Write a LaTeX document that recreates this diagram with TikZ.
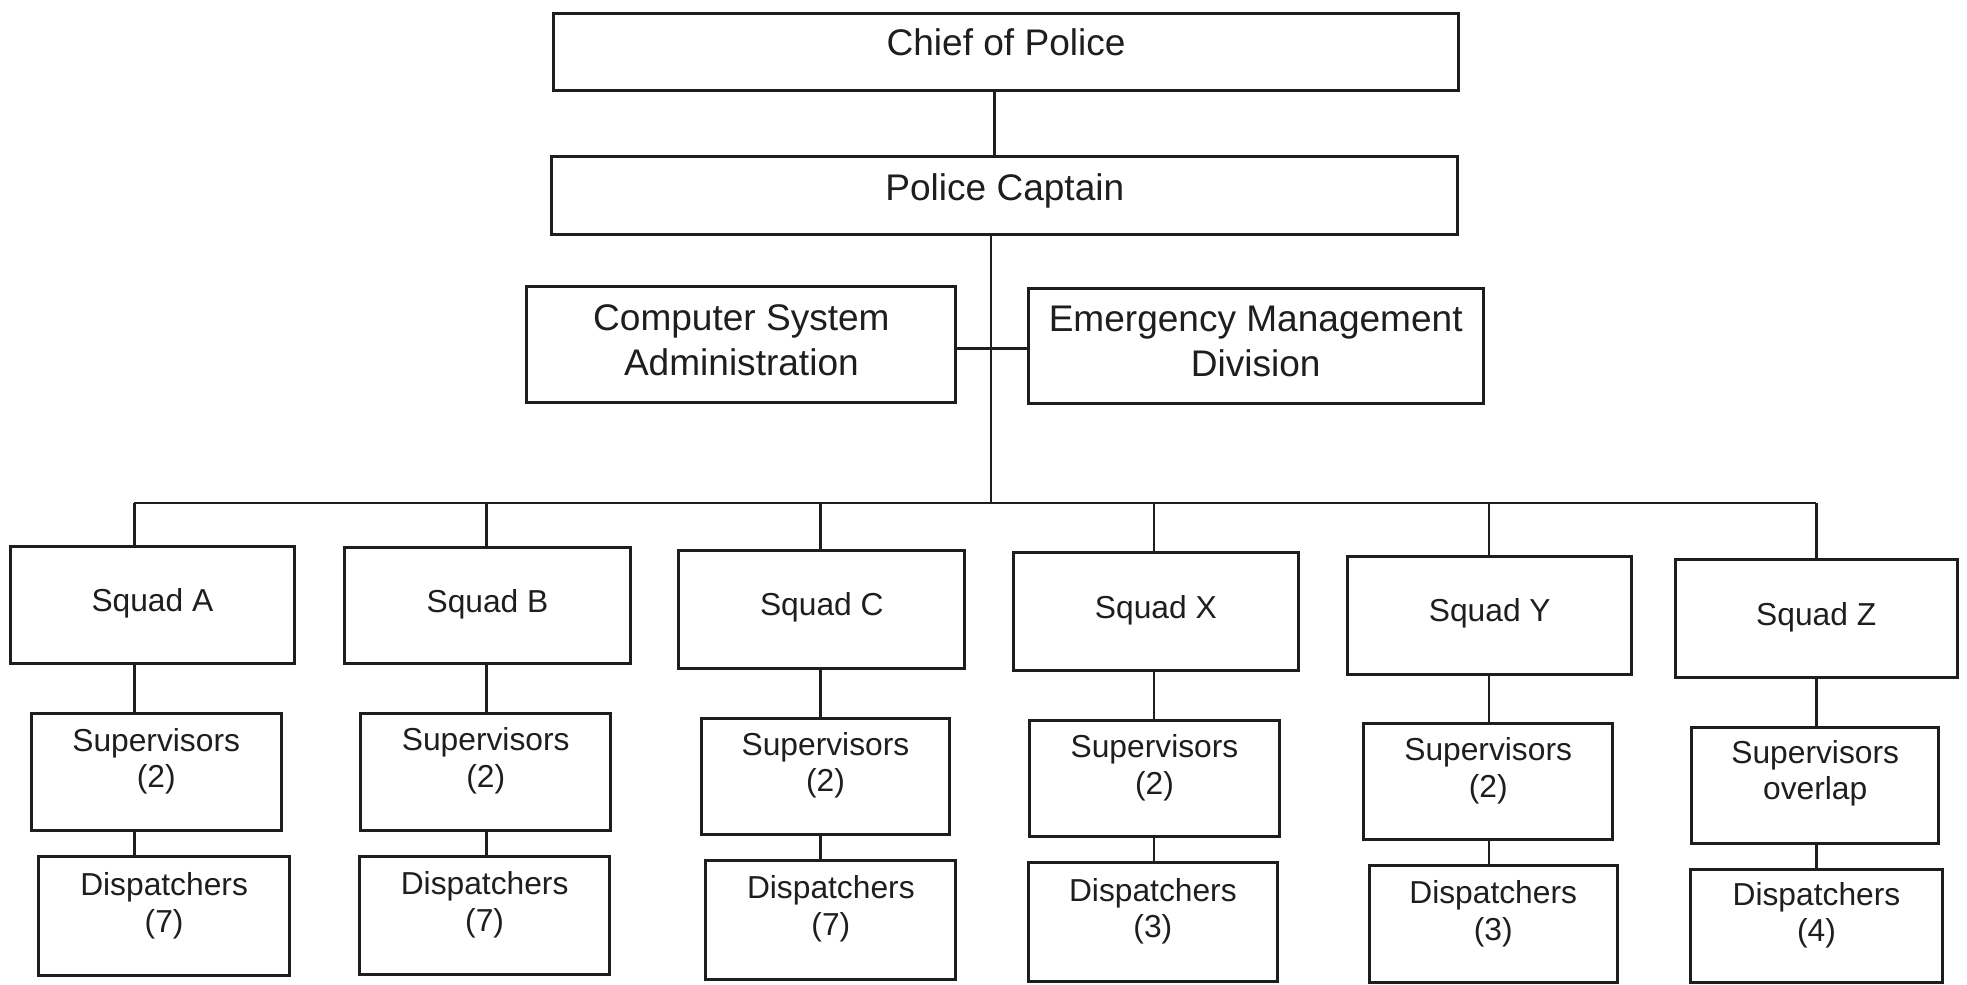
\documentclass[tikz,border=0pt]{standalone}
\usepackage{fontspec}
\setmainfont{Liberation Sans}

% one drawing unit
\newlength\pxu
\setlength\pxu{0.0125cm}
% centred text lines whose last baseline sits #1 units below the box centre
\newcommand\boxtext[2]{\raisebox{-#1\pxu}[0pt][0pt]{\begin{tabular}[b]{@{}c@{}}#2\end{tabular}}}

\definecolor{ink}{HTML}{1E1E1E}

\tikzset{
  orgbox/.style={draw=ink, line width=0.85pt, inner sep=0pt, text=ink, rectangle},
  upperbox/.style={orgbox, font=\fontsize{10.5}{12.7}\selectfont},
  lowerbox/.style={orgbox, font=\fontsize{9}{10.4}\selectfont},
  link/.style={draw=ink, line width=0.75pt}
}

\begin{document}
\begin{tikzpicture}[x=1\pxu, y=-1\pxu]
  \fill[white] (0,0) rectangle (1568,785);
  \useasboundingbox (0,0) rectangle (1568,785);

  % command chain
  \node[upperbox, minimum width=722\pxu, minimum height=61\pxu] (chief) at (802,41.5)
    {\boxtext{2.9}{Chief of Police}};
  \node[upperbox, minimum width=722\pxu, minimum height=62\pxu] (captain) at (801,156)
    {\boxtext{3.6}{Police Captain}};
  \node[upperbox, minimum width=342\pxu, minimum height=92\pxu] (csa) at (591,274.5)
    {\boxtext{24.5}{Computer System\\Administration}};
  \node[upperbox, minimum width=363\pxu, minimum height=91.5\pxu] (emd) at (1001,275.8)
    {\boxtext{24.5}{Emergency Management\\Division}};

  % squads
  \node[lowerbox, minimum width=227\pxu, minimum height=92.6\pxu] (sqA) at (121.5,482.3) {\boxtext{5.3}{Squad A}};
  \node[lowerbox, minimum width=227.8\pxu, minimum height=92.6\pxu] (sqB) at (388.6,482.7) {\boxtext{5.3}{Squad B}};
  \node[lowerbox, minimum width=227.8\pxu, minimum height=94.3\pxu] (sqC) at (655.1,485.6) {\boxtext{5.3}{Squad C}};
  \node[lowerbox, minimum width=226.8\pxu, minimum height=93.5\pxu] (sqX) at (921.4,487.4) {\boxtext{5.3}{Squad X}};
  \node[lowerbox, minimum width=226.5\pxu, minimum height=94.1\pxu] (sqY) at (1187.6,490.3) {\boxtext{5.3}{Squad Y}};
  \node[lowerbox, minimum width=224.8\pxu, minimum height=94.1\pxu] (sqZ) at (1447.8,493) {\boxtext{5.3}{Squad Z}};

  % supervisors
  \node[lowerbox, minimum width=199\pxu, minimum height=93\pxu] (supA) at (124.5,615.5) {\boxtext{12.5}{Supervisors\\(2)}};
  \node[lowerbox, minimum width=199.3\pxu, minimum height=93.6\pxu] (supB) at (387.2,615.4) {\boxtext{12.5}{Supervisors\\(2)}};
  \node[lowerbox, minimum width=198\pxu, minimum height=92.4\pxu] (supC) at (658,618.8) {\boxtext{12.5}{Supervisors\\(2)}};
  \node[lowerbox, minimum width=199.4\pxu, minimum height=93\pxu] (supX) at (920.3,620.5) {\boxtext{12.5}{Supervisors\\(2)}};
  \node[lowerbox, minimum width=198.5\pxu, minimum height=92.6\pxu] (supY) at (1186.3,623.3) {\boxtext{12.5}{Supervisors\\(2)}};
  \node[lowerbox, minimum width=197.3\pxu, minimum height=92.3\pxu] (supZ) at (1447,626.2) {\boxtext{11.5}{Supervisors\\overlap}};

  % dispatchers
  \node[lowerbox, minimum width=199.6\pxu, minimum height=95\pxu] (dspA) at (130.8,730.5) {\boxtext{12.5}{Dispatchers\\(7)}};
  \node[lowerbox, minimum width=199\pxu, minimum height=94\pxu] (dspB) at (386.3,730) {\boxtext{12.5}{Dispatchers\\(7)}};
  \node[lowerbox, minimum width=199.4\pxu, minimum height=95.4\pxu] (dspC) at (662.3,733.3) {\boxtext{12.5}{Dispatchers\\(7)}};
  \node[lowerbox, minimum width=198\pxu, minimum height=94.8\pxu] (dspX) at (919,735.1) {\boxtext{12.5}{Dispatchers\\(3)}};
  \node[lowerbox, minimum width=197.4\pxu, minimum height=93.2\pxu] (dspY) at (1190.3,736.9) {\boxtext{12.5}{Dispatchers\\(3)}};
  \node[lowerbox, minimum width=200.7\pxu, minimum height=90.5\pxu] (dspZ) at (1448,738.3) {\boxtext{12.5}{Dispatchers\\(4)}};

  % junction points
  \coordinate (upper) at (793,0);
  \coordinate (spine) at (790,401);
  \coordinate (cross) at (790,278);
  \coordinate (xA) at (107,401);
  \coordinate (xB) at (388,401);
  \coordinate (xC) at (654,401);
  \coordinate (xX) at (920,401);
  \coordinate (xY) at (1187,401);
  \coordinate (xZ) at (1448,401);

  % connectors
  \draw[link] (chief.south -| upper) -- (captain.north -| upper);
  \draw[link] (captain.south -| spine) -- (spine);
  \draw[link] (csa.east |- cross) -- (emd.west |- cross);
  \draw[link] (xA) -- (xZ);
  \foreach \c in {A,B,C,X,Y,Z}{
    \draw[link] (x\c) -- (x\c |- sq\c.north);
    \draw[link] (x\c |- sq\c.south) -- (x\c |- sup\c.north);
    \draw[link] (x\c |- sup\c.south) -- (x\c |- dsp\c.north);
  }
\end{tikzpicture}
\end{document}
